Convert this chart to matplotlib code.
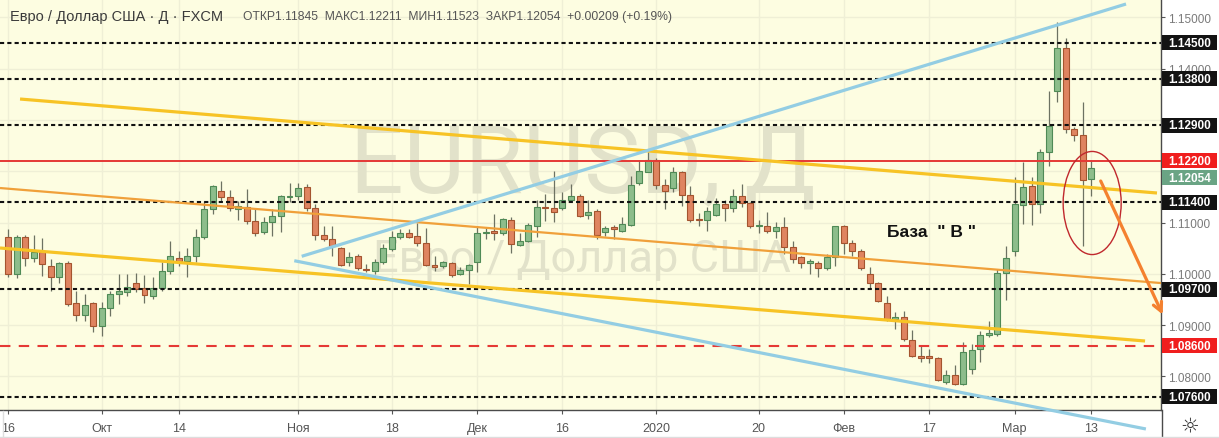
import numpy as np
import pandas as pd
import matplotlib
matplotlib.use('Agg')
import matplotlib.pyplot as plt
from matplotlib.patches import Ellipse, Rectangle
from matplotlib.lines import Line2D
from matplotlib.transforms import blended_transform_factory

plt.rcParams['font.family'] = ['Liberation Sans', 'DejaVu Sans']

# EURUSD daily, FXCM, 16 Sep 2019 - 13 Mar 2020 (no bars on 25 Dec and 1 Jan)
opens = [1.10724, 1.09990, 1.10724, 1.10302, 1.10419, 1.10159, 1.09931, 1.10204, 1.09424, 1.09197,
         1.09424, 1.08976, 1.09327, 1.09600, 1.09639, 1.09814, 1.09717, 1.09561, 1.09717, 1.10048,
         1.10302, 1.10256, 1.10341, 1.10724, 1.11257, 1.11608, 1.11505, 1.11264, 1.11309, 1.11037,
         1.10809, 1.11004, 1.11121, 1.11505, 1.11524, 1.11687, 1.11284, 1.10757, 1.10679, 1.10497,
         1.10224, 1.10341, 1.10094, 1.10062, 1.10224, 1.10484, 1.10724, 1.10789, 1.10731, 1.10594,
         1.10172, 1.10146, 1.10204, 1.09990, 1.10081, 1.10237, 1.10796, 1.10828, 1.10789, 1.11049,
         1.10568, 1.10646, 1.10926, 1.11296, 1.11277, 1.11277, 1.11446, 1.11511, 1.11147, 1.11219,
         1.10809, 1.10906, 1.10841, 1.10952, 1.11765, 1.11992, 1.12226, 1.11732, 1.11667, 1.11979,
         1.11537, 1.11069, 1.11056, 1.11140, 1.11355, 1.11277, 1.11511, 1.11381, 1.10926, 1.10939,
         1.10829, 1.10920, 1.10516, 1.10322, 1.10211, 1.10218, 1.10107, 1.10322, 1.10939, 1.10594,
         1.10439, 1.09997, 1.09821, 1.09431, 1.09119, 1.09150, 1.08715, 1.08390, 1.08403, 1.08351,
         1.07896, 1.08032, 1.07850, 1.08143, 1.08533, 1.08812, 1.08825, 1.10008, 1.10450, 1.11341,
         1.11705, 1.11360, 1.12381, 1.13558, 1.14396, 1.12823, 1.12706, 1.11845]
highs = [1.10874, 1.10757, 1.10764, 1.10764, 1.10698, 1.10289, 1.10237, 1.10256, 1.09671, 1.09606,
         1.09444, 1.09444, 1.09671, 1.09996, 1.09996, 1.10009, 1.09977, 1.09931, 1.10224, 1.10646,
         1.10451, 1.10503, 1.10874, 1.11426, 1.11732, 1.11804, 1.11634, 1.11426, 1.11654, 1.11270,
         1.11102, 1.11270, 1.11537, 1.11771, 1.11771, 1.11752, 1.11362, 1.10939, 1.10926, 1.10529,
         1.10432, 1.10387, 1.10191, 1.10289, 1.10581, 1.10841, 1.10874, 1.10874, 1.10991, 1.10887,
         1.10341, 1.10256, 1.10224, 1.10127, 1.10191, 1.10939, 1.10906, 1.11166, 1.11089, 1.11102,
         1.10796, 1.10991, 1.11446, 1.11557, 1.12011, 1.11589, 1.11752, 1.11557, 1.11446, 1.11264,
         1.10939, 1.10952, 1.11102, 1.11914, 1.12219, 1.12369, 1.12252, 1.11849, 1.12077, 1.12011,
         1.11706, 1.11186, 1.11297, 1.11472, 1.11440, 1.11654, 1.11752, 1.11394, 1.11056, 1.11199,
         1.11004, 1.11102, 1.10646, 1.10354, 1.10289, 1.10257, 1.10386, 1.10939, 1.10952, 1.10659,
         1.10484, 1.10139, 1.09847, 1.09574, 1.09249, 1.09281, 1.08910, 1.08611, 1.08533, 1.08370,
         1.08130, 1.08221, 1.08663, 1.08630, 1.08890, 1.09085, 1.10093, 1.10535, 1.11880, 1.12173,
         1.11880, 1.12433, 1.13571, 1.14916, 1.14591, 1.12856, 1.13343, 1.12211]
lows = [1.09931, 1.09912, 1.10146, 1.10237, 1.09964, 1.09671, 1.09821, 1.09379, 1.09086, 1.09086,
        1.08859, 1.08794, 1.09184, 1.09411, 1.09574, 1.09639, 1.09424, 1.09509, 1.09671, 1.09996,
        1.10146, 1.09931, 1.10224, 1.10679, 1.11167, 1.11407, 1.11219, 1.11056, 1.10972, 1.10731,
        1.10777, 1.10744, 1.10809, 1.11407, 1.11446, 1.11232, 1.10659, 1.10646, 1.10354, 1.10159,
        1.10159, 1.10081, 1.10029, 1.09996, 1.10191, 1.10451, 1.10679, 1.10692, 1.10536, 1.10159,
        1.10062, 1.10107, 1.09931, 1.09970, 1.09801, 1.10029, 1.10679, 1.10666, 1.10763, 1.10406,
        1.10536, 1.10614, 1.10711, 1.11037, 1.11017, 1.11245, 1.11414, 1.11102, 1.11069, 1.10679,
        1.10731, 1.10679, 1.10822, 1.10926, 1.11732, 1.11979, 1.11654, 1.11264, 1.11589, 1.11329,
        1.11017, 1.10939, 1.10841, 1.11121, 1.11037, 1.11199, 1.11297, 1.10887, 1.10796, 1.10796,
        1.10692, 1.10386, 1.10211, 1.10107, 1.09990, 1.09931, 1.10081, 1.10159, 1.10386, 1.10354,
        1.10081, 1.09704, 1.09444, 1.09087, 1.08924, 1.08695, 1.08370, 1.08273, 1.08260, 1.07915,
        1.07850, 1.07831, 1.07831, 1.08045, 1.08273, 1.08760, 1.08793, 1.09495, 1.10353, 1.10971,
        1.10951, 1.11185, 1.12108, 1.13343, 1.12745, 1.12596, 1.10548, 1.11523]
closes = [1.09990, 1.10724, 1.10302, 1.10419, 1.10185, 1.09931, 1.10204, 1.09411, 1.09197, 1.09398,
          1.08976, 1.09327, 1.09606, 1.09658, 1.09749, 1.09704, 1.09587, 1.09717, 1.10048, 1.10354,
          1.10256, 1.10341, 1.10724, 1.11257, 1.11706, 1.11505, 1.11284, 1.11316, 1.11037, 1.10796,
          1.11004, 1.11121, 1.11511, 1.11518, 1.11674, 1.11284, 1.10757, 1.10672, 1.10549, 1.10178,
          1.10328, 1.10107, 1.10068, 1.10224, 1.10497, 1.10711, 1.10789, 1.10724, 1.10594, 1.10178,
          1.10139, 1.10224, 1.09983, 1.10081, 1.10166, 1.10796, 1.10815, 1.10789, 1.11069, 1.10581,
          1.10633, 1.10952, 1.11296, 1.11277, 1.11199, 1.11446, 1.11511, 1.11134, 1.11206, 1.10757,
          1.10887, 1.10867, 1.10965, 1.11739, 1.11998, 1.12226, 1.11732, 1.11608, 1.11979, 1.11537,
          1.11056, 1.11043, 1.11225, 1.11355, 1.11277, 1.11511, 1.11388, 1.10926, 1.10959, 1.10829,
          1.10920, 1.10516, 1.10289, 1.10211, 1.10250, 1.10107, 1.10322, 1.10926, 1.10594, 1.10439,
          1.10107, 1.09821, 1.09463, 1.09119, 1.09151, 1.08728, 1.08390, 1.08364, 1.08351, 1.07935,
          1.08026, 1.07850, 1.08481, 1.08520, 1.08812, 1.08838, 1.10008, 1.10301, 1.11360, 1.11686,
          1.11360, 1.12381, 1.12875, 1.14396, 1.12823, 1.12706, 1.11835, 1.12054]

dates = pd.bdate_range('2019-09-16', '2020-03-13')
dates = dates[~dates.isin(pd.to_datetime(['2019-12-25', '2020-01-01']))]

tick_dates = ['2019-09-16', '2019-10-01', '2019-10-14', '2019-11-01', '2019-11-18', '2019-12-02',
              '2019-12-16', '2020-01-02', '2020-01-20', '2020-02-03', '2020-02-17', '2020-03-02',
              '2020-03-13']
tick_labels = ['16', 'Окт', '14', 'Ноя', '18', 'Дек', '16', '2020', '20', 'Фев', '17', 'Мар', '13']

price_ticks = [1.08, 1.09, 1.10, 1.11, 1.12, 1.13, 1.14, 1.15]
hidden_ticks = [1.12, 1.13]

black_levels = [1.145, 1.138, 1.129, 1.114, 1.097, 1.076]
red_solid_level = 1.122
red_dashed_level = 1.086

# hand drawn lines: (bar index, price) pairs
upper_yellow = [(1.41, 1.13408), (134.7, 1.11576)]
lower_yellow = [(-0.94, 1.10504), (133.3, 1.08691)]
orange_line = [(-0.94, 1.11673), (135.2, 1.09820)]
upper_blue = [(34.43, 1.10342), (131.07, 1.15260)]
lower_blue = [(33.56, 1.10256), (133.4, 1.06976)]
arrow_from, arrow_to = (128.1, 1.11810), (135.37, 1.09206)
ellipse_center, ellipse_w, ellipse_h = (127.1, 1.11381), 6.8, 0.0201
base_label_pos = (103.05, 1.10816)

title = 'Евро / Доллар США · Д · FXCM'
ohlc_text = 'ОТКР1.11845  МАКС1.12211  МИН1.11523  ЗАКР1.12054  +0.00209 (+0.19%)'

BG = '#fdfde1'
GRID = '#efefd6'
GREEN, GREEN_EDGE = '#8dbd8b', '#4f8a56'
RED, RED_EDGE = '#df8460', '#a4542f'
WICK = '#6d7262'
WATERMARK = '#e2e2ca'

W, H = 1219, 439
fig = plt.figure(figsize=(W / 100, H / 100), dpi=100)
fig.patch.set_facecolor('white')
ax = fig.add_axes([0, 28 / H, 1161 / W, 411 / H])
ax.set_facecolor(BG)

o, hi, lo, c = (np.array(v) for v in (opens, highs, lows, closes))
x = np.arange(len(o))
assert len(dates) == len(x)
up = c >= o
body_lo = np.minimum(o, c)
body_h = np.maximum(np.abs(c - o), 0.00018)

ax.vlines(x, lo, hi, color=WICK, lw=0.9, zorder=2)
ax.bar(x[up], body_h[up], 0.7, bottom=body_lo[up], color=GREEN, edgecolor=GREEN_EDGE, lw=0.8, zorder=2.5)
ax.bar(x[~up], body_h[~up], 0.7, bottom=body_lo[~up], color=RED, edgecolor=RED_EDGE, lw=0.8, zorder=2.5)

ymin, ymax = 1.07346, 1.153577
ax.set_xlim(-0.94, 135.17)
ax.set_ylim(ymin, ymax)

tick_idx = [dates.get_loc(pd.Timestamp(d)) for d in tick_dates]
ax.set_xticks(tick_idx)
ax.set_xticklabels(tick_labels)
ax.set_yticks(price_ticks)
ax.set_yticklabels(['' if t in hidden_ticks else f'{t:.5f}' for t in price_ticks])
ax.yaxis.tick_right()
ax.grid(True, color=GRID, lw=1)
ax.set_axisbelow(True)
ax.tick_params(axis='y', direction='out', length=3, width=0.8, color='#555555',
               labelsize=8.5, labelcolor='#7a7a7a', pad=2)
ax.tick_params(axis='x', direction='out', length=3, width=0.8, color='#555555',
               labelsize=9, labelcolor='#555555', pad=5.5)
for side in ('left', 'top'):
    ax.spines[side].set_visible(False)
for side in ('right', 'bottom'):
    ax.spines[side].set_color('#4a4a4a')
    ax.spines[side].set_linewidth(1)

# watermark
wm = blended_transform_factory(ax.transAxes, ax.transData)
ax.text(0.502, 1.11596, 'EURUSD, Д', transform=wm, ha='center', va='baseline',
        family='Roboto', fontsize=68, color=WATERMARK, zorder=1)
ax.text(0.501, 1.10046, 'Евро / Доллар США', transform=wm, ha='center', va='baseline',
        family='Roboto', fontsize=32.5, color=WATERMARK, zorder=1)

# levels
for lvl in black_levels:
    ax.axhline(lvl, color='#111111', lw=1.5, ls=(0, (2, 1.5)), zorder=4)
ax.axhline(red_solid_level, color='#e53935', lw=1.4, zorder=4)
ax.axhline(red_dashed_level, color='#e53935', lw=1.5, ls=(0, (5, 4)), zorder=4)

# trend lines
for pts, col, lw in ((upper_yellow, '#f7c325', 2.3), (lower_yellow, '#f7c325', 2.3),
                     (orange_line, '#f0a03a', 1.6), (upper_blue, '#93cde3', 2.3)):
    ax.plot([p[0] for p in pts], [p[1] for p in pts], color=col, lw=lw, zorder=4.5,
            solid_capstyle='butt')
ax.plot([p[0] for p in lower_blue], [p[1] for p in lower_blue], color='#93cde3', lw=2.3,
        zorder=4.5, clip_on=False, solid_capstyle='butt')

ax.annotate('', xy=arrow_to, xytext=arrow_from, annotation_clip=False, zorder=6,
            arrowprops=dict(arrowstyle='->', color='#f4812f', lw=2.3, mutation_scale=16,
                            shrinkA=0, shrinkB=0))
ax.add_patch(Ellipse(ellipse_center, ellipse_w, ellipse_h, facecolor='none',
                     edgecolor='#c0282d', lw=1, zorder=5))
ax.text(base_label_pos[0], base_label_pos[1], 'База  " В "', ha='left', va='center',
        fontsize=12.5, fontweight='bold', color='#111111', zorder=6)

# price labels on the right scale
box_tr = blended_transform_factory(fig.transFigure, ax.transData)
px = (ymax - ymin) / 411


def level_label(price, face, at=None):
    # at: where the box is drawn, if it has to be moved off its price
    bh = 15 * px
    yc = price if at is None else at
    ax.add_patch(Rectangle((1162 / W, yc - bh / 2), 55 / W, bh, transform=box_tr,
                           facecolor=face, edgecolor='none', clip_on=False, zorder=7))
    ax.text(1189.5 / W, yc, f'{price:.5f}', transform=box_tr, ha='center', va='center',
            color='white', fontsize=8.5, fontweight='bold', clip_on=False, zorder=8)


for lvl in black_levels:
    level_label(lvl, '#131313')
level_label(red_solid_level, '#f01e1e')
level_label(red_dashed_level, '#f01e1e')
# last price box sits right under the 1.12200 box, as on the source chart
level_label(closes[-1], '#6aa484', at=red_solid_level - 17 * px)

# header
fig.text(10 / W, 1 - 17 / H, title, va='center', ha='left', fontsize=10.5, color='#3a3a3a')
fig.text(243 / W, 1 - 17 / H, ohlc_text, va='center', ha='left', fontsize=8.7, color='#555555')

# frame bits outside the plot
fig.add_artist(Line2D([1161.5 / W] * 2, [0, 28 / H], color='#4a4a4a', lw=1))
fig.add_artist(Line2D([0, 1], [1.5 / H] * 2, color='#dddddd', lw=1))
fig.add_artist(Line2D([3 / W] * 2, [2 / H, 27 / H], color='#dddddd', lw=1))
fig.text(1190 / W, 1 - 426 / H, '☼', ha='center', va='center', fontsize=15,
         family='DejaVu Sans', color='#333333')

fig.savefig('out.png', dpi=100, facecolor='white')
